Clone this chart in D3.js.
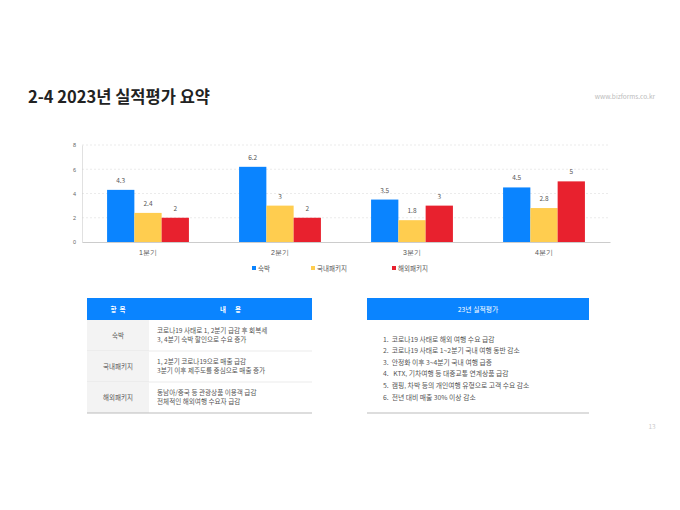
<!DOCTYPE html>
<html>
<head>
<meta charset="utf-8">
<script src="https://cdn.jsdelivr.net/npm/d3@7"></script>
<style>
  body { margin: 0; background: #fff; }
  svg { display: block; font-family: "Noto Sans CJK KR", "Noto Sans", sans-serif; }
</style>
</head>
<body>
<div id="chart"></div>
<script>
// chart data
var quarters = ["1분기", "2분기", "3분기", "4분기"];
var seriesNames = ["숙박", "국내패키지", "해외패키지"];
var lodging = [4.3, 6.2, 3.5, 4.5];
var domestic = [2.4, 3, 1.8, 2.8];
var overseas = [2, 2, 3, 5];
var yTicks = [0, 2, 4, 6, 8];

// table data
var tableHeads = ["항  목", "내      용"];
var tableItems = ["숙박", "국내패키지", "해외패키지"];
var tableLines = [
  ["코로나19 사태로 1, 2분기 급감 후 회복세", "3, 4분기 숙박 할인으로 수요 증가"],
  ["1, 2분기 코로나19으로 매출 급감", "3분기 이후 제주도를 중심으로 매출 증가"],
  ["동남아/중국 등 관광상품 이용객 급감", "전체적인 해외여행 수요자 급감"]
];
var summaryTitle = "23년 실적평가";
var summaryLines = [
  "1.  코로나19 사태로 해외 여행 수요 급감",
  "2.  코로나19 사태로 1~2분기 국내 여행 동반 감소",
  "3.  안정화 이후 3~4분기 국내 여행 급증",
  "4.   KTX, 기차여행 등 대중교통 연계상품 급감",
  "5.  캠핑, 차박 등의 개인여행 유형으로 고객 수요 감소",
  "6.  전년 대비 매출 30% 이상 감소"
];

var colors = ["#0a84ff", "#ffcd4f", "#e8212e"];
var series = [lodging, domestic, overseas];

var width = 680, height = 510;
var svg = d3.select("#chart").append("svg")
    .attr("width", width)
    .attr("height", height);

// title
svg.append("text")
    .attr("x", 28).attr("y", 103)
    .style("font-size", "16.5px").style("font-weight", "bold")
    .attr("fill", "#222")
    .text("2-4 2023년 실적평가 요약");

svg.append("text")
    .attr("x", 655).attr("y", 99)
    .attr("text-anchor", "end")
    .style("font-size", "6.5px")
    .attr("fill", "#bbb")
    .text("www.bizforms.co.kr");

// bar chart
var plot = { left: 82, right: 610, top: 145, bottom: 242 };

var x0 = d3.scaleBand()
    .domain(quarters)
    .range([plot.left, plot.right])
    .paddingInner(0.38)
    .paddingOuter(0.19);

var x1 = d3.scaleBand()
    .domain(seriesNames)
    .range([0, x0.bandwidth()]);

var y = d3.scaleLinear()
    .domain([0, 8])
    .range([plot.bottom, plot.top]);

var g = svg.append("g");

g.selectAll(".grid")
    .data(yTicks.slice(1))
    .enter().append("line")
    .attr("x1", plot.left).attr("x2", plot.right)
    .attr("y1", function(d) { return y(d); })
    .attr("y2", function(d) { return y(d); })
    .attr("stroke", "#ddd")
    .attr("stroke-width", 0.6)
    .attr("stroke-dasharray", "2,2");

var yAxis = g.append("g")
    .attr("transform", "translate(" + plot.left + ",0)")
    .call(d3.axisLeft(y).tickValues(yTicks).tickSize(0).tickPadding(6));
yAxis.select(".domain").attr("stroke", "#ccc").attr("stroke-width", 0.6);
yAxis.selectAll("text").style("font-size", "5.5px").attr("fill", "#666");

var groups = g.selectAll(".quarter")
    .data(quarters)
    .enter().append("g")
    .attr("transform", function(d) { return "translate(" + x0(d) + ",0)"; });

groups.selectAll("rect")
    .data(function(d, i) {
        return seriesNames.map(function(s, j) { return { name: s, value: series[j][i], c: colors[j] }; });
    })
    .enter().append("rect")
    .attr("x", function(d) { return x1(d.name); })
    .attr("y", function(d) { return y(d.value); })
    .attr("width", x1.bandwidth())
    .attr("height", function(d) { return y(0) - y(d.value); })
    .attr("fill", function(d) { return d.c; });

groups.selectAll(".val")
    .data(function(d, i) {
        return seriesNames.map(function(s, j) { return { name: s, value: series[j][i] }; });
    })
    .enter().append("text")
    .attr("x", function(d) { return x1(d.name) + x1.bandwidth() / 2; })
    .attr("y", function(d) { return y(d.value) - 7; })
    .attr("text-anchor", "middle")
    .style("font-size", "6.5px")
    .attr("fill", "#555")
    .text(function(d) { return d.value; });

var xAxis = g.append("g")
    .attr("transform", "translate(0," + plot.bottom + ")")
    .call(d3.axisBottom(x0).tickSize(0).tickPadding(8));
xAxis.select(".domain").attr("stroke", "#ccc").attr("stroke-width", 1.2);
xAxis.selectAll("text").style("font-size", "7px").attr("fill", "#555");

// legend
var legendX = [252, 311, 392];
var legend = svg.selectAll(".legend")
    .data(seriesNames)
    .enter().append("g")
    .attr("transform", function(d, i) { return "translate(" + legendX[i] + ",270)"; });
legend.append("rect")
    .attr("x", 0).attr("y", -4)
    .attr("width", 4).attr("height", 4)
    .attr("fill", function(d, i) { return colors[i]; });
legend.append("text")
    .attr("x", 6).attr("y", 0.5)
    .style("font-size", "6.5px")
    .attr("fill", "#555")
    .text(function(d) { return d; });

// left table
var blue = "#0a84ff";
var tbl = { left: 87, mid: 149, right: 312, top: 298, head: 22, row: 31 };

svg.append("rect")
    .attr("x", tbl.left).attr("y", tbl.top)
    .attr("width", tbl.right - tbl.left).attr("height", tbl.head)
    .attr("fill", blue);

svg.selectAll(".thead")
    .data(tableHeads)
    .enter().append("text")
    .attr("x", function(d, i) { return i === 0 ? (tbl.left + tbl.mid) / 2 : (tbl.mid + tbl.right) / 2; })
    .attr("y", tbl.top + tbl.head / 2 + 2.5)
    .attr("text-anchor", "middle")
    .style("font-size", "6.5px").style("font-weight", "bold")
    .attr("fill", "#fff")
    .style("white-space", "pre")
    .text(function(d) { return d; });

var rows = svg.selectAll(".trow")
    .data(tableItems)
    .enter().append("g")
    .attr("transform", function(d, i) { return "translate(0," + (tbl.top + tbl.head + i * tbl.row) + ")"; });

rows.append("rect")
    .attr("x", tbl.left).attr("y", 0)
    .attr("width", tbl.mid - tbl.left).attr("height", tbl.row)
    .attr("fill", "#f3f3f3");

rows.append("line")
    .attr("x1", tbl.left).attr("x2", tbl.right)
    .attr("y1", tbl.row).attr("y2", tbl.row)
    .attr("stroke", function(d, i) { return i === tableItems.length - 1 ? "#bbb" : "#ddd"; })
    .attr("stroke-width", function(d, i) { return i === tableItems.length - 1 ? 1 : 0.6; });

rows.append("text")
    .attr("x", (tbl.left + tbl.mid) / 2)
    .attr("y", tbl.row / 2 + 2.5)
    .attr("text-anchor", "middle")
    .style("font-size", "6.5px")
    .attr("fill", "#555")
    .text(function(d) { return d; });

rows.each(function(d, i) {
    d3.select(this).selectAll(".line")
        .data(tableLines[i])
        .enter().append("text")
        .attr("x", tbl.mid + 8)
        .attr("y", function(t, k) { return 12.5 + k * 9.5; })
        .style("font-size", "6.6px")
        .attr("fill", "#555")
        .text(function(t) { return t; });
});

// right summary box
var box = { left: 367, right: 589, top: 298, head: 22, bottom: 413 };

svg.append("rect")
    .attr("x", box.left).attr("y", box.top)
    .attr("width", box.right - box.left).attr("height", box.head)
    .attr("fill", blue);

svg.append("text")
    .attr("x", (box.left + box.right) / 2)
    .attr("y", box.top + box.head / 2 + 2.5)
    .attr("text-anchor", "middle")
    .style("font-size", "6.8px")
    .attr("fill", "#fff")
    .text(summaryTitle);

svg.selectAll(".sum")
    .data(summaryLines)
    .enter().append("text")
    .attr("x", 383)
    .attr("y", function(d, i) { return 341.5 + i * 11.6; })
    .style("font-size", "6.8px")
    .style("white-space", "pre")
    .attr("fill", "#555")
    .text(function(d) { return d; });

svg.append("line")
    .attr("x1", box.left).attr("x2", box.right)
    .attr("y1", box.bottom).attr("y2", box.bottom)
    .attr("stroke", "#bbb").attr("stroke-width", 1);

// page number
svg.append("text")
    .attr("x", 652).attr("y", 429)
    .attr("text-anchor", "middle")
    .style("font-size", "6.5px")
    .attr("fill", "#ccc")
    .text("13");
</script>
</body>
</html>
